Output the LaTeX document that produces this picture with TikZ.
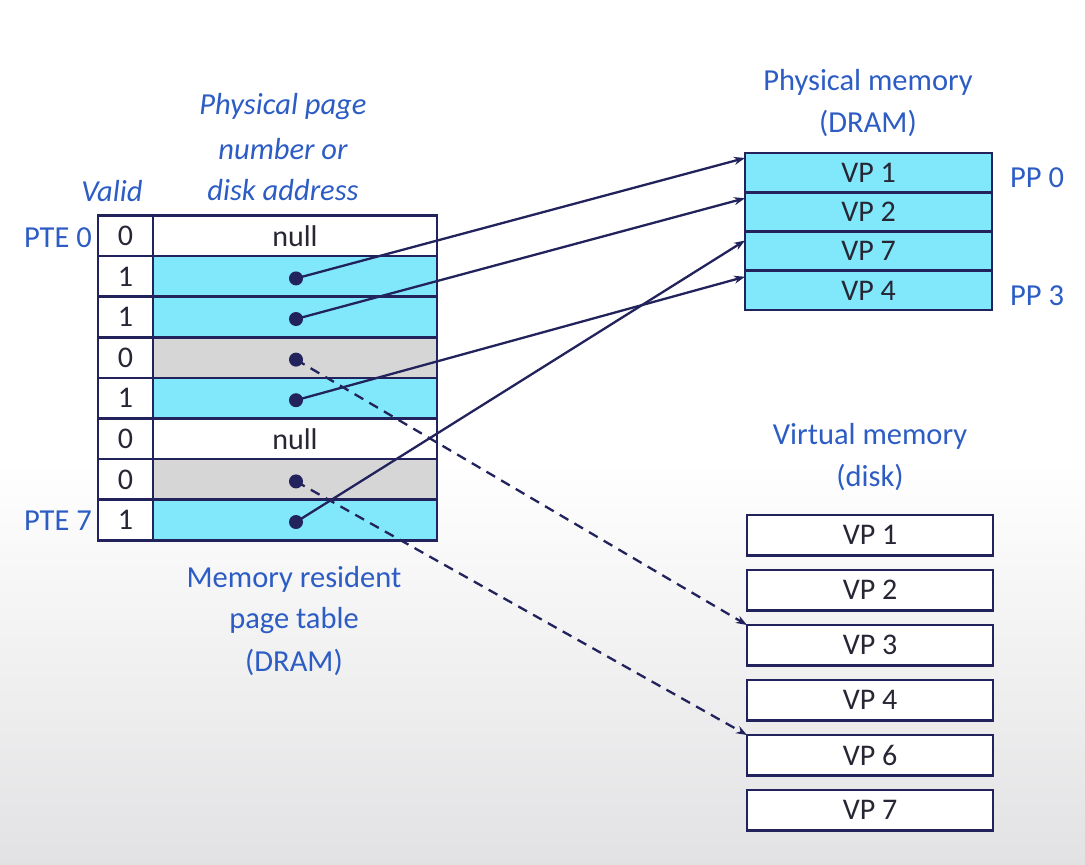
\documentclass[tikz,border=0pt]{standalone}
\usepackage{fontspec}
\setmainfont{Carlito}
\usetikzlibrary{arrows.meta}
\definecolor{navy}{RGB}{34,34,92}
\definecolor{lblue}{RGB}{44,92,196}
\definecolor{cyanf}{RGB}{128,232,250}
\definecolor{grayf}{RGB}{214,214,214}
\definecolor{boxtext}{RGB}{38,38,52}
\definecolor{bgbot}{RGB}{226,226,228}
\begin{document}
\begin{tikzpicture}[x=1pt,y=-1pt,
  cell/.style={draw=navy,line width=2.6pt,inner sep=0pt,outer sep=0pt,minimum height=40.6pt,
    text=boxtext,font=\fontsize{30}{33}\selectfont},
  vcell/.style={cell,minimum width=55pt},
  pcell/.style={cell,minimum width=284pt},
  cy/.style={fill=cyanf},
  gr/.style={fill=grayf},
  wh/.style={fill=white},
  pmcell/.style={cell,fill=cyanf,minimum width=247pt,minimum height=39.25pt},
  dkcell/.style={cell,fill=white,minimum width=246pt,minimum height=40.5pt},
  lbl/.style={text=lblue,font=\fontsize{30.5}{33}\selectfont,inner sep=0pt},
  ilbl/.style={text=lblue,font=\fontsize{30.5}{33}\selectfont\itshape,inner sep=0pt},
  dot/.style={circle,fill=navy,inner sep=0pt,minimum size=14pt},
  arr/.style={draw=navy,line width=2.3pt,-{Stealth[length=11pt,width=8pt]}},
  darr/.style={arr,dash pattern=on 10pt off 7pt}
]
\useasboundingbox (0,0) rectangle (1085,865);
\fill[white] (0,0) rectangle (1085,460);
\shade[top color=white,bottom color=bgbot] (0,460) rectangle (1085,865);

% Page table
\foreach \i/\v/\f in {0/0/wh,1/1/cy,2/1/cy,3/0/gr,4/1/cy,5/0/wh,6/0/gr,7/1/cy}{
  \node[vcell,fill=white] (v\i) at (125.5,{235.8+40.6*\i}) {\v};
  \node[pcell,\f] (p\i) at (295,{235.8+40.6*\i}) {};
}
\node[text=boxtext,font=\fontsize{30}{33}\selectfont] (n0) at (p0) {null};
\node[text=boxtext,font=\fontsize{30}{33}\selectfont] (n5) at (p5) {null};
\foreach \i in {1,2,3,4,6,7}{ \node[dot] (d\i) at (296,{235.8+40.6*\i+2}) {}; }

% Labels for page table
\node[lbl,anchor=east] (pte0) at (92,238) {PTE 0};
\node[lbl,anchor=east] (pte7) at (92,521) {PTE 7};
\node[ilbl] (valid) at (112,191) {Valid};
\node[ilbl] (ph1) at (283,107) {Physical page};
\node[ilbl] (ph2) at (283,149) {number or};
\node[ilbl] (ph3) at (283,190) {disk address};
\node[lbl] (mr1) at (294,579) {Memory resident};
\node[lbl] (mr2) at (294,621) {page table};
\node[lbl] (mr3) at (294,662) {(DRAM)};

% Physical memory
\foreach \i/\t in {1/VP 1,2/VP 2,3/VP 7,4/VP 4}{
  \node[pmcell] (pm\i) at (868.5,{153+39.25*(\i-0.5)}) {\t};
}
\node[lbl] (pmt1) at (868,82) {Physical memory};
\node[lbl] (pmt2) at (868,123) {(DRAM)};
\node[lbl] (pp0) at (1037,178) {PP 0};
\node[lbl] (pp3) at (1037,296) {PP 3};

% Virtual memory (disk)
\foreach \i/\t in {1/VP 1,2/VP 2,3/VP 3,4/VP 4,5/VP 6,6/VP 7}{
  \node[dkcell] (dk\i) at (870,{535.25+55*(\i-1)}) {\t};
}
\node[lbl] (vmt1) at (870,436) {Virtual memory};
\node[lbl] (vmt2) at (870,477) {(disk)};

% Arrows
\coordinate (e1) at ([shift={(0,5)}]pm1.north west);
\coordinate (e2) at ([shift={(0,6)}]pm2.north west);
\coordinate (e3) at ([shift={(0,9)}]pm3.north west);
\coordinate (e4) at ([shift={(0,6)}]pm4.north west);
\draw[arr] (d1.center) -- (e1);
\draw[arr] (d2.center) -- (e2);
\draw[arr] (d7.center) -- (e3);
\draw[arr] (d4.center) -- (e4);
\draw[darr] (d3.center) -- (dk3.north west);
\draw[darr] (d6.center) -- (dk5.north west);
\end{tikzpicture}
\end{document}
